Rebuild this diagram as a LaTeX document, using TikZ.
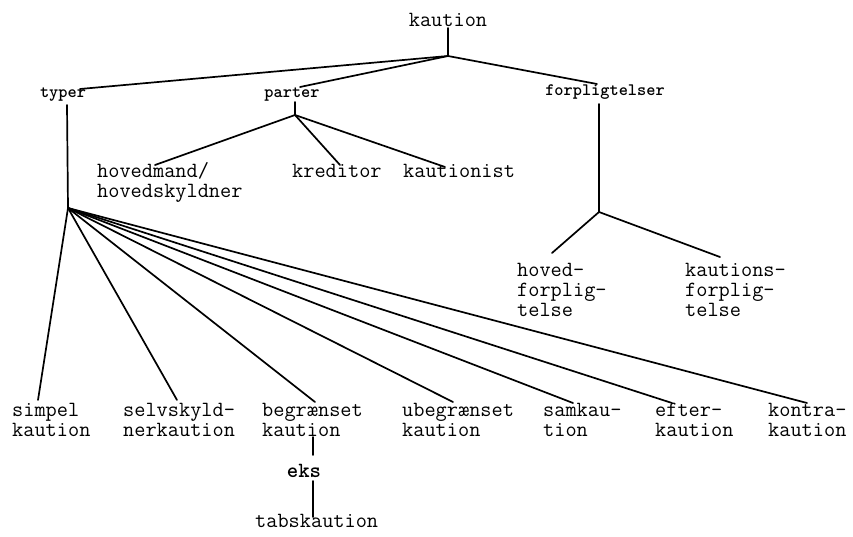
\documentclass[tikz,border=0pt]{standalone}
\usepackage{fontspec}
\newcommand{\ls}{\rule{0pt}{14pt}}
\tikzset{
  lbl/.style={inner sep=0pt, anchor=north west, align=left, font=\ttfamily\fontsize{21.7}{20}\selectfont},
  toplbl/.style={inner sep=0pt, anchor=base, font=\ttfamily\fontsize{21.7}{20}\selectfont},
  cat/.style={inner sep=0pt, anchor=base, font=\ttfamily\bfseries\fontsize{17.5}{17}\selectfont},
  conn/.style={line width=1.7pt, line cap=round, line join=round}
}
\begin{document}
\begin{tikzpicture}[x=1pt,y=-1pt]
\useasboundingbox[fill=white] (0,0) rectangle (853,537);
% labels
\node[toplbl] (kaution) at (448,27) {kaution};
\node[cat] (typer) at (63,98) {typer};
\node[cat] (parter) at (292,98) {parter};
\node[cat] (forpl) at (605,96) {forpligtelser};
\node[lbl] (hovedmand) at (97,162) {\ls hovedmand/\\hovedskyldner};
\node[lbl] (kreditor) at (292,163) {\ls kreditor};
\node[lbl] (kautionist) at (403,163) {\ls kautionist};
\node[lbl] (hovedf) at (517,262) {\ls hoved-\\forplig-\\telse};
\node[lbl] (kautionsf) at (685,262) {\ls kautions-\\forplig-\\telse};
\node[lbl] (simpel) at (12,402) {\ls simpel\\kaution};
\node[lbl] (selv) at (123,402) {\ls selvskyld-\\nerkaution};
\node[lbl] (begr) at (262,402) {\ls begrænset\\kaution};
\node[lbl] (ubegr) at (402,402) {\ls ubegrænset\\kaution};
\node[lbl] (sam) at (543,402) {\ls samkau-\\tion};
\node[lbl] (efter) at (655,402) {\ls efter-\\kaution};
\node[lbl] (kontra) at (768,402) {\ls kontra-\\kaution};
\node[toplbl, font=\ttfamily\bfseries\fontsize{21.7}{20}\selectfont] (eks) at (304,477) {eks};
\node[lbl] (tabs) at (255,513) {\ls tabskaution};
% junction / end points
\coordinate (kt) at (448,28);
\coordinate (J) at (448,56);
\coordinate (te) at (80,89);
\coordinate (pe) at (300,87);
\coordinate (fe) at (597,84);
\coordinate (ttop) at (67,105);
\coordinate (F) at (68,208);
\coordinate (e1) at (38,400);
\coordinate (e2) at (177,400);
\coordinate (e3) at (315,402);
\coordinate (e4) at (453,402);
\coordinate (e5) at (573,403);
\coordinate (e6) at (672,403);
\coordinate (e7) at (807,403);
\coordinate (ptop) at (295,102);
\coordinate (P) at (295,115);
\coordinate (p1) at (155,165);
\coordinate (p2) at (340,165);
\coordinate (p3) at (445,167);
\coordinate (ftop) at (599,104);
\coordinate (Fj) at (599,212);
\coordinate (f1) at (552,253);
\coordinate (f2) at (720,257);
\coordinate (b1) at (313,437);
\coordinate (b2) at (313,455);
\coordinate (k1) at (313,481);
\coordinate (k2) at (313,517);
% connectors
\draw[conn] (kt) -- (J);
\draw[conn] (J) -- (te);
\draw[conn] (J) -- (pe);
\draw[conn] (J) -- (fe);
\draw[conn] (ttop) -- (F);
\foreach \e in {e1,e2,e3,e4,e5,e6,e7} \draw[conn] (F) -- (\e);
\draw[conn] (ptop) -- (P);
\foreach \e in {p1,p2,p3} \draw[conn] (P) -- (\e);
\draw[conn] (ftop) -- (Fj);
\draw[conn] (Fj) -- (f1);
\draw[conn] (Fj) -- (f2);
\draw[conn] (b1) -- (b2);
\draw[conn] (k1) -- (k2);
\end{tikzpicture}
\end{document}
